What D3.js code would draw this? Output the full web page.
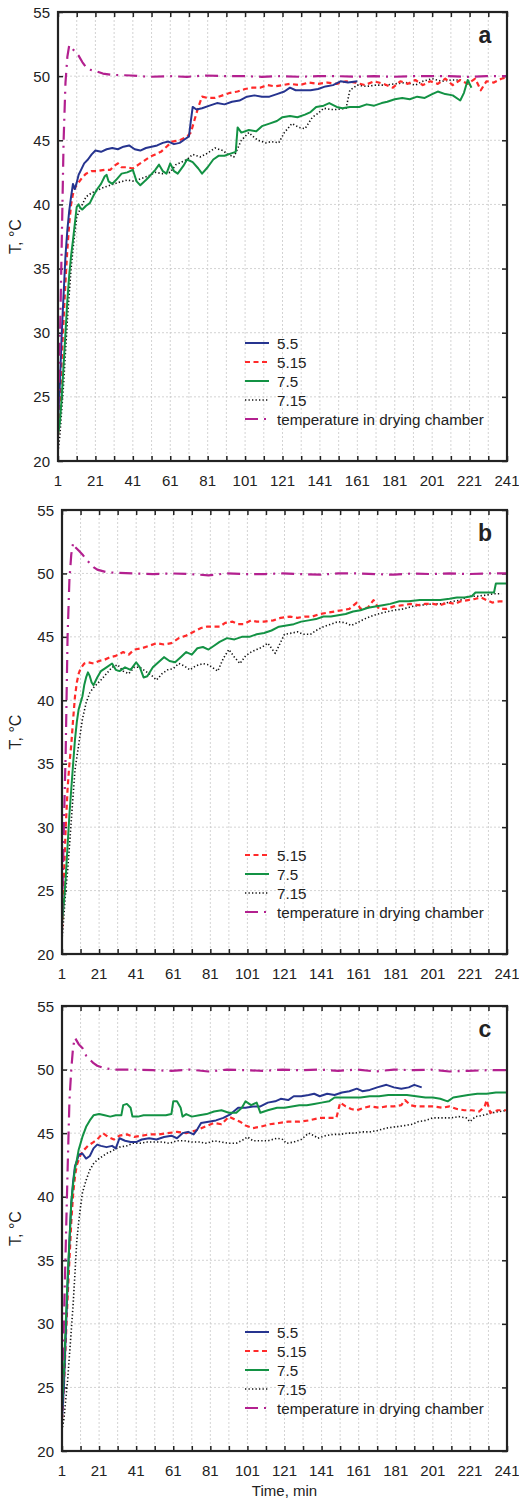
<!DOCTYPE html>
<html><head><meta charset="utf-8">
<title>T vs time</title>
<script src="https://cdn.jsdelivr.net/npm/d3@7"></script>
<style>
body { margin: 0; background: #fff; }
text { font-family: "Liberation Sans", Arial, sans-serif; fill: #222; }
</style>
</head>
<body>
<div id="chart"></div>
<script>
// time, min -> T, °C
const xTicks = [1, 21, 41, 61, 81, 101, 121, 141, 161, 181, 201, 221, 241];
const yTicks = [20, 25, 30, 35, 40, 45, 50, 55];
const seriesNames = ["5.5", "5.15", "7.5", "7.15", "temperature in drying chamber"];

// panel a
const a_55 = [[1,23],[2,26],[3,30],[4,33],[5,36],[6,38],[7,39.5],[8,40.6],[9,41.6],[10,41.2],[11,41.7],[12,42.3],[13,42.6],[15,43.2],[17,43.5],[19,43.9],[21,44.2],[24,44.1],[27,44.3],[30,44.4],[33,44.3],[36,44.5],[39,44.6],[42,44.3],[45,44.2],[48,44.4],[51,44.5],[54,44.6],[57,44.8],[60,44.9],[63,44.7],[66,44.8],[69,45.1],[71,45.3],[72,46.5],[73,47.6],[75,47.4],[78,47.5],[82,47.7],[86,47.9],[90,47.8],[94,48.0],[98,48.1],[102,48.4],[106,48.5],[110,48.4],[114,48.4],[118,48.6],[122,48.8],[125,49.1],[128,48.9],[132,48.9],[136,48.9],[140,49.0],[144,49.2],[148,49.3],[152,49.6],[156,49.5],[161,49.6]];
const a_515 = [[1,22],[2,24.5],[3,28],[4,31],[5,34],[6,36.5],[7,38.5],[8,40],[9,40.8],[10,41.3],[12,41.7],[14,42.1],[16,42.4],[19,42.6],[22,42.6],[26,42.7],[29,42.7],[31,43.0],[33,43.2],[35,42.9],[38,42.9],[41,42.8],[44,43.1],[47,43.4],[50,43.7],[53,43.9],[56,44.1],[59,44.5],[62,44.9],[66,45.0],[70,45.3],[72,45.6],[74,46.6],[76,47.6],[78,48.4],[81,48.3],[85,48.3],[89,48.5],[93,48.7],[97,48.8],[101,49.0],[105,49.1],[109,49.1],[113,49.3],[117,49.2],[121,49.3],[125,49.4],[130,49.3],[135,49.5],[140,49.4],[145,49.5],[150,49.4],[155,49.6],[160,49.5],[165,49.3],[170,49.6],[175,49.4],[180,49.1],[184,49.6],[188,49.4],[192,49.7],[196,49.3],[200,49.6],[204,49.4],[208,49.8],[212,49.3],[216,49.7],[220,49.4],[224,49.8],[227,48.9],[230,49.6],[234,49.5],[238,49.8],[241,49.9]];
const a_75 = [[1,22],[2,23],[3,25],[4,27.5],[5,30],[6,32.5],[7,34.5],[8,36],[9,37.2],[10,38.5],[11,39.8],[12,40.0],[13,39.7],[14,39.6],[16,39.9],[18,40.1],[20,40.7],[22,41.2],[24,41.6],[26,42.2],[27,42.3],[28,41.8],[30,41.6],[32,41.9],[35,42.4],[38,42.5],[41,42.7],[43,41.8],[45,41.5],[48,41.9],[50,42.2],[53,42.7],[55,43.1],[57,42.6],[59,42.4],[61,43.2],[63,42.6],[65,42.4],[68,43.0],[70,43.5],[73,43.3],[76,42.8],[78,42.4],[81,42.9],[84,43.5],[87,43.8],[90,43.8],[94,44.0],[96,44.1],[97,46.0],[99,45.6],[103,45.8],[107,45.7],[110,46.1],[114,46.3],[118,46.5],[121,46.8],[125,46.9],[129,46.8],[133,47.0],[136,47.2],[139,47.6],[143,47.7],[146,47.9],[150,47.6],[153,47.5],[157,47.6],[162,47.6],[166,47.8],[170,47.7],[174,47.9],[177,48.0],[181,48.2],[185,48.3],[189,48.2],[193,48.4],[197,48.3],[201,48.6],[204,48.8],[208,48.6],[212,48.5],[216,48.1],[218,48.7],[220,49.7],[222,49.1]];
const a_715 = [[1,20.7],[2,22],[3,24],[4,26],[5,28.5],[6,31],[7,33],[8,35],[9,36.5],[10,37.8],[11,39.0],[13,39.7],[16,40.6],[19,40.9],[22,41.1],[25,41.3],[29,41.5],[33,41.7],[38,41.9],[42,41.8],[45,42.0],[49,42.2],[53,42.5],[57,42.4],[61,42.5],[64,43.1],[67,43.3],[70,43.5],[73,43.9],[77,43.7],[81,44.0],[85,44.4],[89,44.2],[92,43.9],[95,43.7],[99,45.0],[103,45.6],[106,45.2],[108,45.0],[112,44.8],[115,44.9],[119,44.8],[122,45.6],[126,46.3],[130,46.0],[133,45.9],[137,46.8],[140,47.1],[143,47.5],[147,47.4],[150,47.4],[155,47.5],[157,48.9],[161,49.3],[166,49.2],[171,49.3],[176,49.3],[181,49.4],[187,49.5],[192,49.3],[196,49.6],[201,49.8],[206,49.6],[211,49.7],[216,49.7]];
const a_chamber = [[1,24],[2,29],[3,37],[4,45],[5,49.5],[6,51.5],[7,52.4],[8,52.3],[10,51.9],[12,51.6],[14,51.1],[16,50.7],[18,50.5],[21,50.4],[25,50.2],[30,50.1],[40,50.05],[50,49.95],[60,50.0],[70,49.95],[80,50.05],[90,50.0],[100,50.0],[110,49.95],[120,50.0],[130,49.95],[140,50.0],[150,50.0],[160,49.95],[170,50.0],[180,49.95],[190,50.0],[200,50.0],[210,50.0],[220,49.95],[230,50.0],[241,50.0]];

// panel b
const b_515 = [[1,22],[2,26],[3,30],[4,33],[5,35],[6,36.5],[7,38.5],[8,40.3],[9,41.4],[10,42.1],[11,42.5],[13,42.9],[15,43.0],[18,42.9],[21,43.1],[24,43.2],[27,43.4],[30,43.5],[34,43.8],[37,43.6],[40,44.0],[44,44.1],[48,44.3],[52,44.5],[56,44.4],[60,44.5],[64,44.9],[68,45.1],[72,45.4],[76,45.7],[79,45.8],[83,45.8],[86,45.8],[89,46.1],[93,46.2],[96,46.0],[99,46.0],[103,46.3],[106,46.2],[110,46.2],[115,46.3],[119,46.5],[124,46.6],[128,46.5],[132,46.6],[136,46.6],[140,46.8],[144,46.9],[148,47.0],[152,47.1],[156,47.2],[160,47.7],[162,47.2],[166,47.3],[169,47.9],[172,47.2],[176,47.2],[180,47.4],[185,47.5],[189,47.6],[193,47.5],[197,47.6],[201,47.6],[205,47.5],[209,47.7],[213,47.6],[216,47.8],[220,47.9],[224,48.0],[227,48.1],[230,47.9],[233,47.7],[237,47.8],[241,47.8]];
const b_75 = [[1,22.5],[2,24],[3,26],[4,28.5],[5,31],[6,33],[7,35],[8,36.9],[9,38.3],[10,39.3],[11,39.8],[12,40.3],[13,41.2],[14,41.8],[15,42.2],[16,41.9],[17,41.4],[18,41.2],[20,41.8],[22,42.3],[25,42.6],[28,42.9],[30,42.4],[32,42.3],[35,42.6],[38,42.4],[41,43.0],[43,42.6],[45,41.8],[47,41.9],[50,42.6],[53,43.0],[56,43.4],[59,43.1],[62,43.0],[65,43.4],[68,43.8],[71,43.6],[74,44.1],[77,44.2],[80,44.0],[83,44.3],[86,44.6],[90,44.9],[94,44.8],[98,45.0],[102,45.0],[106,45.2],[110,45.3],[114,45.5],[118,45.8],[122,45.9],[126,46.0],[130,46.2],[134,46.3],[138,46.4],[142,46.6],[146,46.6],[150,46.7],[154,46.8],[158,47.0],[162,47.1],[166,47.3],[170,47.4],[174,47.5],[178,47.6],[183,47.8],[188,47.8],[194,47.9],[200,47.9],[205,47.9],[210,48.0],[214,48.1],[218,48.1],[222,48.2],[224,48.5],[230,48.5],[234,48.5],[235,49.2],[241,49.2]];
const b_715 = [[1,21.1],[2,23],[3,25],[4,26.5],[5,28.5],[6,30.5],[7,32.5],[8,34.5],[9,35.5],[10,36.5],[12,38.5],[14,39.8],[16,40.6],[18,41.0],[20,41.3],[22,41.6],[25,42.1],[28,42.6],[31,42.8],[34,42.3],[37,42.1],[40,42.6],[43,42.6],[46,42.3],[49,42.0],[52,41.6],[55,42.1],[58,42.4],[61,42.5],[64,42.9],[67,42.7],[70,42.4],[73,42.7],[77,42.9],[80,42.8],[83,42.5],[85,42.3],[88,43.3],[91,44.0],[94,43.4],[97,42.9],[100,43.5],[103,43.8],[106,44.0],[109,44.2],[112,44.5],[114,44.1],[116,43.7],[118,44.3],[121,45.2],[125,45.3],[128,45.4],[131,45.2],[135,45.2],[138,45.5],[142,45.8],[146,46.0],[150,46.2],[154,46.1],[157,45.9],[160,46.1],[164,46.4],[169,46.7],[174,46.9],[180,47.1],[185,47.2],[190,47.4],[195,47.5],[201,47.6],[206,47.6],[212,47.8],[216,47.9],[220,48.2],[225,48.2],[230,48.3],[234,48.4],[238,48.4]];
const b_chamber = [[1,23],[2,30],[3,36],[4,45],[5,49.5],[6,51.5],[7,52.4],[8,52.1],[10,51.8],[12,51.5],[14,51.1],[16,50.8],[18,50.5],[20,50.3],[25,50.1],[30,50.05],[40,50.0],[50,49.95],[60,50.0],[70,49.95],[80,49.85],[90,50.0],[100,49.95],[110,49.95],[120,50.0],[130,49.95],[140,49.9],[150,50.0],[160,50.0],[170,49.95],[180,49.9],[190,50.0],[200,49.95],[210,50.0],[220,49.95],[230,50.0],[241,50.0]];

// panel c
const c_55 = [[1,22.5],[2,25],[3,29],[4,33],[5,36.5],[6,39.5],[7,41.2],[8,42.4],[9,42.8],[10,43.3],[12,43.4],[14,43.0],[16,43.2],[18,43.8],[20,44.1],[22,44.0],[25,43.9],[28,44.0],[30,43.8],[32,44.6],[35,44.4],[38,44.3],[41,44.3],[44,44.5],[48,44.6],[52,44.5],[56,44.7],[60,44.8],[63,44.6],[66,45.0],[69,45.1],[72,44.9],[74,45.3],[76,45.8],[80,45.9],[84,46.0],[88,46.2],[92,46.5],[96,47.0],[100,47.0],[104,47.1],[108,47.1],[112,47.4],[116,47.5],[119,47.7],[123,47.6],[126,47.9],[130,47.9],[134,48.0],[137,48.1],[140,47.9],[144,48.1],[148,48.0],[152,48.2],[156,48.3],[160,48.5],[163,48.3],[167,48.4],[171,48.6],[176,48.8],[180,48.6],[184,48.5],[188,48.6],[191,48.8],[195,48.6]];
const c_515 = [[1,22.5],[2,25],[3,28.5],[4,32],[5,35],[6,38],[7,40.2],[8,41.6],[9,42.5],[11,43.3],[13,43.7],[15,44.0],[18,44.3],[20,44.5],[23,45.0],[26,44.7],[29,44.5],[32,44.8],[36,44.9],[40,44.7],[44,44.8],[48,44.9],[53,44.9],[58,45.0],[63,45.1],[68,45.0],[73,45.2],[78,45.5],[83,45.8],[87,45.7],[91,46.3],[94,46.1],[97,45.9],[100,45.6],[104,45.4],[108,45.5],[113,45.7],[118,45.8],[123,45.9],[129,45.9],[134,46.0],[140,46.2],[145,46.2],[149,46.2],[151,47.4],[154,47.1],[157,46.9],[160,46.8],[164,47.0],[167,47.1],[172,47.0],[176,47.1],[180,47.1],[184,47.2],[186,47.6],[189,47.2],[192,47.1],[197,47.1],[201,47.1],[206,47.0],[210,47.1],[214,46.9],[218,46.8],[222,46.8],[226,46.7],[229,47.1],[230,47.6],[232,46.6],[236,46.8],[241,46.8]];
const c_75 = [[1,23.5],[2,26],[3,30],[4,33.5],[5,36.5],[6,39.5],[7,41],[8,42.2],[9,42.9],[10,43.7],[12,44.7],[14,45.5],[16,46.0],[18,46.4],[21,46.5],[24,46.4],[27,46.3],[30,46.4],[33,46.4],[34,47.2],[36,47.3],[38,47.0],[39,46.3],[42,46.3],[45,46.4],[49,46.4],[53,46.4],[57,46.4],[60,46.5],[61,47.5],[63,47.5],[65,47.0],[66,46.3],[68,46.5],[71,46.3],[75,46.4],[79,46.5],[83,46.7],[87,46.8],[91,46.6],[95,46.6],[98,47.0],[100,47.5],[103,47.2],[106,47.4],[108,46.6],[112,46.8],[117,47.0],[121,47.0],[125,47.1],[129,47.2],[133,47.2],[137,47.3],[141,47.4],[145,47.5],[148,47.8],[152,47.8],[157,47.8],[162,47.8],[167,47.9],[172,47.9],[177,48.0],[182,48.0],[187,48.0],[192,47.9],[197,47.8],[201,47.8],[205,47.7],[209,47.5],[212,47.8],[216,47.9],[220,48.0],[225,48.1],[230,48.1],[235,48.2],[241,48.2]];
const c_715 = [[1,21.6],[2,22.5],[3,24],[4,25.5],[5,27.5],[6,29.5],[7,31.5],[8,34],[9,36.6],[10,38],[11,39.2],[12,40.3],[14,41.3],[16,42.1],[18,42.6],[20,42.9],[22,43.1],[25,43.4],[28,43.6],[32,43.9],[36,44.0],[39,44.2],[43,44.2],[47,44.3],[51,44.3],[55,44.3],[59,44.2],[63,44.4],[67,44.4],[71,44.3],[75,44.3],[79,44.2],[83,44.4],[87,44.3],[91,44.2],[95,44.2],[99,44.5],[101,44.7],[104,44.4],[108,44.4],[112,44.4],[117,44.6],[120,44.5],[122,44.2],[126,44.3],[130,44.5],[134,45.0],[137,44.8],[139,44.6],[143,44.8],[147,44.9],[151,44.9],[155,45.0],[159,45.0],[163,45.1],[167,45.1],[171,45.2],[176,45.4],[181,45.5],[186,45.6],[190,45.7],[193,45.9],[197,46.0],[201,46.2],[206,46.2],[211,46.2],[215,46.3],[219,46.2],[221,45.9],[224,46.3],[228,46.4],[233,46.6],[237,46.7],[241,46.8]];
const c_chamber = [[1,25],[2,30],[3,36],[4,42],[5,47.5],[6,50],[7,51.8],[8,52.5],[10,52.0],[12,51.7],[14,51.1],[16,50.8],[18,50.5],[20,50.3],[24,50.1],[30,50.0],[40,50.0],[50,49.95],[60,49.9],[70,50.0],[80,49.85],[90,50.0],[100,49.95],[110,49.9],[120,50.0],[130,49.95],[140,50.0],[150,49.9],[160,50.0],[170,49.85],[180,50.0],[190,49.95],[200,50.0],[210,49.85],[220,49.9],[230,49.95],[241,49.95]];

// line styles per series name
const styles = {
	"5.5": { color: "#26348f", dash: null, w: 2 },
	"5.15": { color: "#ff2a2a", dash: "5,3.5", w: 2.2 },
	"7.5": { color: "#139244", dash: null, w: 2 },
	"7.15": { color: "#111", dash: "1.3,2.2", w: 1.6 },
	"temperature in drying chamber": { color: "#b3208f", dash: "13,6,2,6", w: 2.2 }
};

const panels = [
	{ label: "a", box: { l: 58, t: 12, r: 507, b: 461 }, legendY: 343,
		series: [["5.5", a_55], ["5.15", a_515], ["7.5", a_75], ["7.15", a_715], ["temperature in drying chamber", a_chamber]] },
	{ label: "b", box: { l: 62, t: 510, r: 507, b: 954 }, legendY: 855,
		series: [["5.15", b_515], ["7.5", b_75], ["7.15", b_715], ["temperature in drying chamber", b_chamber]] },
	{ label: "c", box: { l: 62, t: 1006, r: 507, b: 1451 }, legendY: 1332, xTitle: "Time, min",
		series: [["5.5", c_55], ["5.15", c_515], ["7.5", c_75], ["7.15", c_715], ["temperature in drying chamber", c_chamber]] }
];

const svg = d3.select("#chart").append("svg")
	.attr("width", 519)
	.attr("height", 1500);

panels.forEach((p, pi) => {
	const bx = p.box;
	const x = d3.scaleLinear().domain([1, 241]).range([bx.l, bx.r]);
	const y = d3.scaleLinear().domain([20, 55]).range([bx.b, bx.t]);
	const g = svg.append("g");

	// grid
	const gridX = d3.range(11, 241, 10);
	g.selectAll(".gx").data(gridX).join("line")
		.attr("x1", d => x(d)).attr("x2", d => x(d))
		.attr("y1", bx.t).attr("y2", bx.b)
		.attr("stroke", "#c8c8c8").attr("stroke-width", 0.8).attr("stroke-dasharray", "2,2");
	g.selectAll(".gy").data(yTicks.slice(1, -1)).join("line")
		.attr("x1", bx.l).attr("x2", bx.r)
		.attr("y1", d => y(d)).attr("y2", d => y(d))
		.attr("stroke", "#c8c8c8").attr("stroke-width", 0.8).attr("stroke-dasharray", "2,2");

	// axes with inward ticks
	const minor = d3.range(1, 242, 10);
	g.append("g").attr("transform", `translate(0,${bx.b})`)
		.call(d3.axisBottom(x).tickValues(minor).tickSize(-5).tickFormat(""))
		.call(a => a.select(".domain").remove());
	g.append("g").attr("transform", `translate(0,${bx.t})`)
		.call(d3.axisTop(x).tickValues(minor).tickSize(-5).tickFormat(""))
		.call(a => a.select(".domain").remove());
	g.append("g").attr("transform", `translate(${bx.l},0)`)
		.call(d3.axisLeft(y).tickValues(yTicks).tickSize(-5).tickFormat(""))
		.call(a => a.select(".domain").remove());
	g.append("g").attr("transform", `translate(${bx.r},0)`)
		.call(d3.axisRight(y).tickValues(yTicks).tickSize(-5).tickFormat(""))
		.call(a => a.select(".domain").remove());
	g.selectAll(".tick line").attr("stroke", "#222").attr("stroke-width", 1.5);

	// tick labels
	g.selectAll(".xl").data(xTicks).join("text")
		.attr("x", d => x(d)).attr("y", bx.b + 25)
		.attr("text-anchor", "middle").attr("font-size", 15)
		.text(d => d);
	g.selectAll(".yl").data(yTicks).join("text")
		.attr("x", bx.l - 8).attr("y", d => y(d) + 5.5)
		.attr("text-anchor", "end").attr("font-size", 15)
		.text(d => d);

	// y title
	g.append("text")
		.attr("transform", `translate(21,${(bx.t + bx.b) / 2}) rotate(-90)`)
		.attr("text-anchor", "middle").attr("font-size", 16)
		.text("T, °C");
	if (p.xTitle) {
		g.append("text")
			.attr("x", (bx.l + bx.r) / 2).attr("y", bx.b + 45)
			.attr("text-anchor", "middle").attr("font-size", 15)
			.text(p.xTitle);
	}

	// series
	const clipId = "clip" + pi;
	svg.append("clipPath").attr("id", clipId).append("rect")
		.attr("x", bx.l).attr("y", bx.t).attr("width", bx.r - bx.l).attr("height", bx.b - bx.t);
	const line = d3.line().x(d => x(d[0])).y(d => y(d[1]));
	const order = ["7.15", "5.15", "5.5", "7.5", "temperature in drying chamber"];
	const drawn = p.series.slice().sort((s1, s2) => order.indexOf(s1[0]) - order.indexOf(s2[0]));
	g.append("g").attr("clip-path", `url(#${clipId})`)
		.selectAll("path").data(drawn).join("path")
		.attr("fill", "none")
		.attr("stroke", d => styles[d[0]].color)
		.attr("stroke-width", d => styles[d[0]].w)
		.attr("stroke-dasharray", d => styles[d[0]].dash)
		.attr("stroke-linejoin", "round")
		.attr("d", d => line(d[1]));

	// frame
	g.append("rect")
		.attr("x", bx.l).attr("y", bx.t).attr("width", bx.r - bx.l).attr("height", bx.b - bx.t)
		.attr("fill", "none").attr("stroke", "#222").attr("stroke-width", 2.2);

	// panel letter
	g.append("text")
		.attr("x", bx.r - 22).attr("y", bx.t + 31)
		.attr("text-anchor", "middle").attr("font-size", 23).attr("font-weight", "bold")
		.text(p.label);

	// legend
	const leg = g.append("g");
	const rows = leg.selectAll("g").data(p.series.map(s => s[0])).join("g")
		.attr("transform", (d, i) => `translate(245,${p.legendY + i * 19})`);
	rows.append("line")
		.attr("x1", 0).attr("x2", 24)
		.attr("stroke", d => styles[d].color)
		.attr("stroke-width", d => styles[d].w)
		.attr("stroke-dasharray", d => styles[d].dash);
	rows.append("text")
		.attr("x", 32).attr("y", 5.5)
		.attr("font-size", 15.2)
		.text(d => d);
});
</script>
</body>
</html>
